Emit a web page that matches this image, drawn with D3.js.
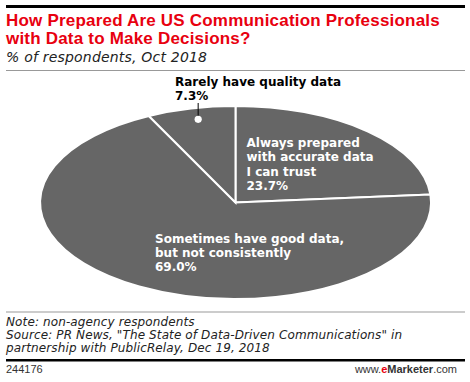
<!DOCTYPE html>
<html>
<head>
<meta charset="utf-8">
<script src="https://cdn.jsdelivr.net/npm/d3@7.9.0/dist/d3.min.js"></script>
<style>
  body { margin: 0; background: #fff; }
  svg { display: block; font-family: "Liberation Sans", Arial, sans-serif; }
</style>
</head>
<body>
<svg id="chart" width="470" height="382"></svg>
<script>
const categories = ['Always prepared with accurate data I can trust', 'Sometimes have good data, but not consistently', 'Rarely have quality data'];
const values = [23.7, 69.0, 7.3];
const labelLines = [
  ['Always prepared', 'with accurate data', 'I can trust'],
  ['Sometimes have good data,', 'but not consistently'],
  ['Rarely have quality data']
];

const svg = d3.select('#chart');
const wide = '"DejaVu Sans", Verdana, sans-serif';

// 상단 바
svg.append('rect').attr('x', 6).attr('y', 5).attr('width', 459).attr('height', 3).attr('fill', '#000');

// 제목
const title = svg.append('text').attr('fill', '#e8000f').attr('font-weight', 'bold')
  .attr('font-size', 17).attr('letter-spacing', 0.2);
title.append('tspan').attr('x', 6).attr('y', 26).text('How Prepared Are US Communication Professionals');
title.append('tspan').attr('x', 6).attr('y', 44).text('with Data to Make Decisions?');

svg.append('text').attr('x', 6).attr('y', 62).attr('font-style', 'italic').attr('font-size', 14)
   .attr('font-family', wide).attr('letter-spacing', 0.2)
   .attr('fill', '#222').text('% of respondents, Oct 2018');

svg.append('line').attr('x1', 6).attr('x2', 465).attr('y1', 70.5).attr('y2', 70.5)
   .attr('stroke', '#999').attr('stroke-width', 1);

// 파이 (타원형)
const cx = 235.5, cy = 202.5, rx = 195.5, ry = 96.5;
const pie = d3.pie().sort(null).value(d => d);
const arcs = pie(values);
const arc = d3.arc().innerRadius(0).outerRadius(1);

const g = svg.append('g').attr('transform', `translate(${cx},${cy}) scale(${rx},${ry})`);
g.selectAll('path')
 .data(arcs)
 .join('path')
 .attr('d', arc)
 .attr('fill', '#666')
 .attr('stroke', '#fff')
 .attr('stroke-width', 2)
 .attr('vector-effect', 'non-scaling-stroke');

// 라벨
const fmt = d3.format('.1f');
function drawLabel(lines, val, x, y, color) {
  const t = svg.append('text').attr('font-weight', 'bold').attr('font-size', 12)
    .attr('font-family', wide).attr('fill', color);
  lines.concat([fmt(val) + '%']).forEach((s, i) => {
    t.append('tspan').attr('x', x).attr('y', y + i * 14.4).text(s);
  });
}
drawLabel(labelLines[0], values[0], 246.5, 147, '#fff');
drawLabel(labelLines[1], values[1], 155, 242.5, '#fff');
drawLabel(labelLines[2], values[2], 175, 86, '#000');

// 작은 조각 리더선
const mid = (arcs[2].startAngle + arcs[2].endAngle) / 2;
const dx = cx + Math.sin(mid) * rx * 0.84;
const dy = cy - Math.cos(mid) * ry * 0.885;
svg.append('line').attr('x1', dx).attr('x2', dx).attr('y1', 103).attr('y2', dy)
   .attr('stroke', '#000').attr('stroke-width', 1);
svg.append('circle').attr('cx', dx).attr('cy', dy).attr('r', 3.6).attr('fill', '#fff');

// 하단
svg.append('line').attr('x1', 6).attr('x2', 465).attr('y1', 312).attr('y2', 312)
   .attr('stroke', '#999').attr('stroke-width', 1);

const notes = ['Note: non-agency respondents',
  'Source: PR News, "The State of Data-Driven Communications" in',
  'partnership with PublicRelay, Dec 19, 2018'];
const nt = svg.append('text').attr('font-style', 'italic').attr('font-size', 12)
  .attr('font-family', wide).attr('letter-spacing', 0.12).attr('fill', '#222');
notes.forEach((s, i) => nt.append('tspan').attr('x', 6).attr('y', 326 + i * 13.2).text(s));

svg.append('rect').attr('x', 6).attr('y', 359).attr('width', 459).attr('height', 2.5).attr('fill', '#000');
svg.append('text').attr('x', 6).attr('y', 373).attr('font-size', 11).attr('fill', '#333').text('244176');

const brand = svg.append('text').attr('x', 457).attr('y', 373).attr('text-anchor', 'end')
  .attr('font-size', 11).attr('fill', '#333');
brand.append('tspan').text('www.');
brand.append('tspan').attr('fill', '#e8000f').attr('font-weight', 'bold').text('e');
brand.append('tspan').attr('font-weight', 'bold').text('Marketer');
brand.append('tspan').text('.com');
</script>
</body>
</html>
